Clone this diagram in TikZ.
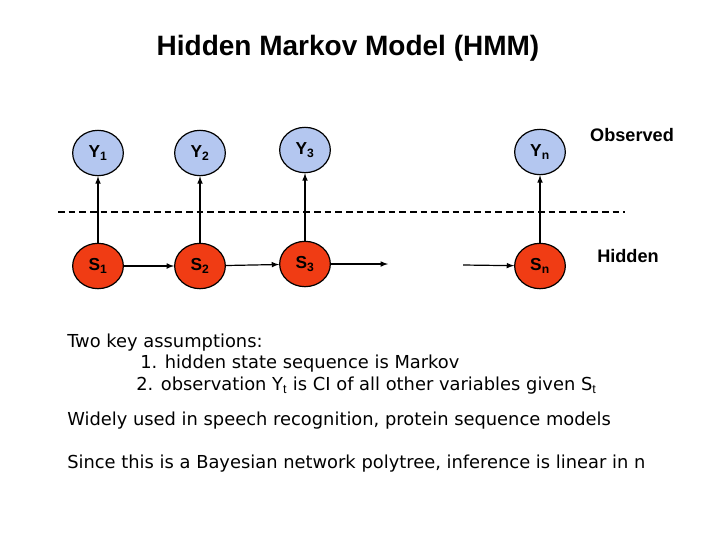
\documentclass[tikz,border=0pt]{standalone}
\usepackage{fontspec}
\setmainfont{Liberation Sans}
\newfontfamily\vfont{DejaVu Sans}
\usetikzlibrary{shapes.geometric}
\definecolor{ybl}{RGB}{180,199,240}
\definecolor{sred}{RGB}{240,60,20}
\begin{document}
\begin{tikzpicture}[x=0.75pt,y=-0.75pt,
  nd/.style={ellipse,draw=black,line width=0.9pt,minimum width=38pt,minimum height=34pt,inner sep=0pt,font=\bfseries\fontsize{13}{15}\selectfont},
  obs/.style={nd,fill=ybl},
  hid/.style={nd,fill=sred},
  arr/.style={-latex,line width=0.9pt},
  body/.style={anchor=west,font=\vfont\fontsize{13.4}{16}\selectfont,inner sep=0pt}]
\useasboundingbox (0,0) rectangle (720,540);
\node[font=\bfseries\fontsize{21}{24}\selectfont] (title) at (348,48) {Hidden Markov Model (HMM)};
\node[obs] (y1) at (98,153) {Y$_{\mathbf 1}$};
\node[obs] (y2) at (200,153) {Y$_{\mathbf 2}$};
\node[obs] (y3) at (305,150) {Y$_{\mathbf 3}$};
\node[obs] (yn) at (540,152) {Y$_{\mathbf n}$};
\node[hid] (s1) at (98,266) {S$_{\mathbf 1}$};
\node[hid] (s2) at (200,266) {S$_{\mathbf 2}$};
\node[hid] (s3) at (305,264) {S$_{\mathbf 3}$};
\node[hid] (sn) at (540,266) {S$_{\mathbf n}$};
\coordinate (e3) at (388,264);
\coordinate (bn) at (463,265);
\draw[line width=1.2pt,dash pattern=on 5pt off 3pt] (58,212) -- (625,212);
\foreach \a/\b in {s1/y1,s2/y2,s3/y3,sn/yn,s1/s2,s2/s3,s3/e3}{\draw[arr] (\a) -- (\b);}
\draw[arr] (bn) -- (sn);
\node[font=\bfseries\fontsize{13.6}{15}\selectfont] (ob) at (632,135) {Observed};
\node[font=\bfseries\fontsize{13.6}{15}\selectfont] (hd) at (628,256) {Hidden};
\node[body] (t1) at (67,343) {Two key assumptions:};
\node[body] (t2) at (140,364) {1. hidden state sequence is Markov};
\node[body] (t3) at (136,386) {2. observation Y$_{\mathrm t}$ is CI of all other variables given S$_{\mathrm t}$};
\node[body] (t4) at (67,421) {Widely used in speech recognition, protein sequence models};
\node[body] (t5) at (67,464) {Since this is a Bayesian network polytree, inference is linear in n};
\end{tikzpicture}
\end{document}
